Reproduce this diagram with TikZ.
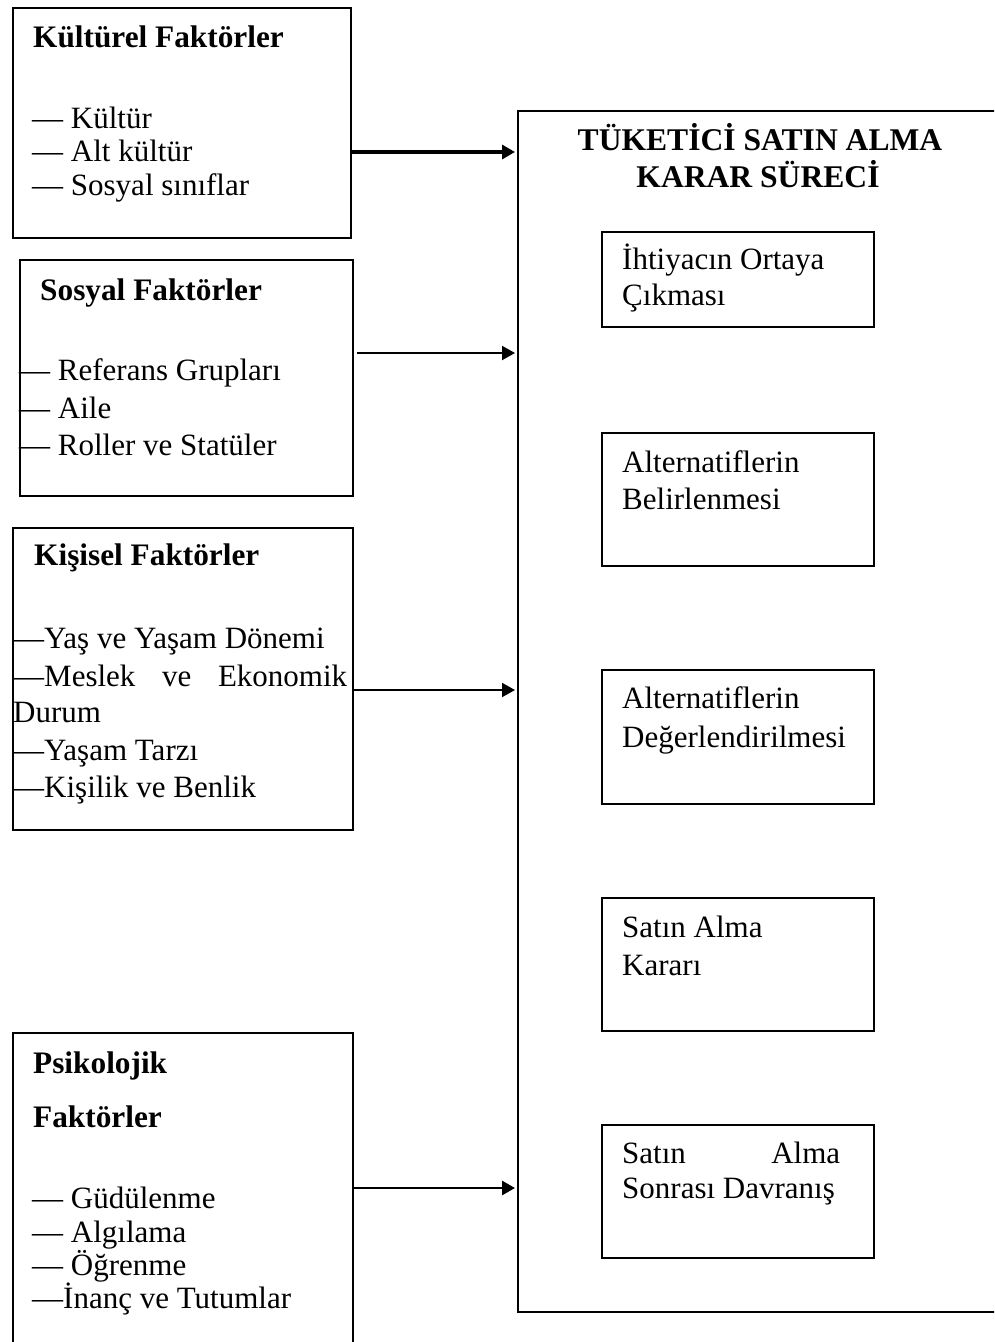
\documentclass[tikz,border=0pt]{standalone}
\usepackage{fontspec}
\setmainfont{Liberation Serif}
\usetikzlibrary{arrows.meta}
\begin{document}
\begin{tikzpicture}[x=1pt,y=-1pt,
  frame/.style={draw, line width=1.7pt, inner sep=0pt, anchor=north west},
  txt/.style={anchor=base west, inner sep=0pt, font=\fontsize{31}{37}\selectfont},
  head/.style={anchor=base west, inner sep=0pt, font=\fontsize{31.3}{37}\selectfont\bfseries},
  title/.style={anchor=base, inner sep=0pt, font=\fontsize{31.6}{37}\selectfont\bfseries},
  link/.style={line width=#1, shorten >=2pt, -{Triangle[length=13pt,width=14pt]}},
]
\useasboundingbox (0,0) rectangle (994,1342);
\clip (0,0) rectangle (994,1342);
\fill[white] (0,0) rectangle (994,1342);

% ---- main process frame (open to the right) ----
\node[frame, minimum width=500pt, minimum height=1201pt] (big) at (517,110) {};
\node[title] (t1) at (760,150) {TÜKETİCİ SATIN ALMA};
\node[title] (t2) at (758,187) {KARAR SÜRECİ};

% ---- process steps ----
\node[frame, minimum width=272pt, minimum height=95pt]  (s1) at (601,231) {};
\node[txt] (s1a) at (622,269) {İhtiyacın Ortaya};
\node[txt] (s1b) at (622,305) {Çıkması};

\node[frame, minimum width=272pt, minimum height=133pt] (s2) at (601,432) {};
\node[txt] (s2a) at (622,472) {Alternatiflerin};
\node[txt] (s2b) at (622,509) {Belirlenmesi};

\node[frame, minimum width=272pt, minimum height=134pt] (s3) at (601,669) {};
\node[txt] (s3a) at (622,708) {Alternatiflerin};
\node[txt] (s3b) at (622,747) {Değerlendirilmesi};

\node[frame, minimum width=272pt, minimum height=133pt] (s4) at (601,897) {};
\node[txt] (s4a) at (622,937) {Satın Alma};
\node[txt] (s4b) at (622,975) {Kararı};

\node[frame, minimum width=272pt, minimum height=133pt] (s5) at (601,1124) {};
\node[txt] (s5a) at (622,1163) {\makebox[218pt][l]{Satın\hfill Alma}};
\node[txt] (s5b) at (622,1198) {Sonrası Davranış};

% ---- cultural factors ----
\node[frame, minimum width=338pt, minimum height=230pt] (k) at (12,7) {};
\node[head] (kh) at (33,47) {Kültürel Faktörler};
\node[txt] (k1) at (32,128) {— Kültür};
\node[txt] (k2) at (32,161) {— Alt kültür};
\node[txt] (k3) at (32,195) {— Sosyal sınıflar};

% ---- social factors ----
\node[frame, minimum width=333pt, minimum height=236pt] (so) at (19,259) {};
\node[head] (soh) at (40,300) {Sosyal Faktörler};
\node[txt] (so1) at (19,380) {— Referans Grupları};
\node[txt] (so2) at (19,418) {— Aile};
\node[txt] (so3) at (19,455) {— Roller ve Statüler};

% ---- personal factors ----
\node[frame, minimum width=340pt, minimum height=302pt] (ki) at (12,527) {};
\node[head] (kih) at (34,565) {Kişisel Faktörler};
\node[txt] (ki1) at (13,648) {—Yaş ve Yaşam Dönemi};
\node[txt] (ki2) at (13,686) {\makebox[334pt][l]{—Meslek\hfill ve\hfill Ekonomik}};
\node[txt] (ki3) at (13,722) {Durum};
\node[txt] (ki4) at (13,760) {—Yaşam Tarzı};
\node[txt] (ki5) at (13,797) {—Kişilik ve Benlik};

% ---- psychological factors (runs past the lower edge) ----
\node[frame, minimum width=340pt, minimum height=340pt] (ps) at (12,1032) {};
\node[head] (psh1) at (33,1073) {Psikolojik};
\node[head] (psh2) at (33,1127) {Faktörler};
\node[txt] (ps1) at (32,1208) {— Güdülenme};
\node[txt] (ps2) at (32,1242) {— Algılama};
\node[txt] (ps3) at (32,1275) {— Öğrenme};
\node[txt] (ps4) at (32,1308) {—İnanç ve Tutumlar};

% ---- influences on the decision process ----
\draw[link=3.8pt] (k.east |- 0,152)  -- (big.west |- 0,152);
\draw[link=2pt]   ([xshift=3pt]so.east |- 0,353) -- (big.west |- 0,353);
\draw[link=2pt]   (ki.east |- 0,690) -- (big.west |- 0,690);
\draw[link=2.8pt] (ps.east |- 0,1188) -- (big.west |- 0,1188);
\end{tikzpicture}
\end{document}
